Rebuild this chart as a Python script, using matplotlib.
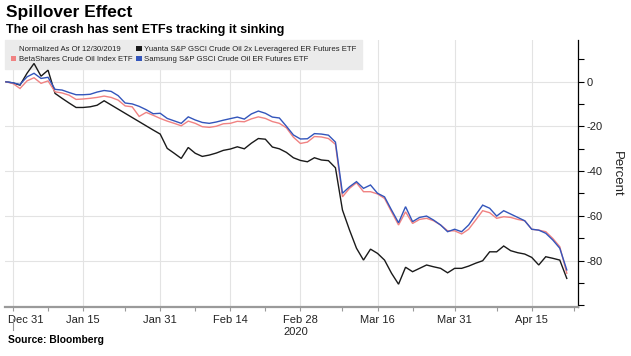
import numpy as np
import pandas as pd
import matplotlib
matplotlib.use("Agg")
import matplotlib.pyplot as plt
from matplotlib.patches import Patch
from matplotlib.lines import Line2D
import matplotlib.transforms as mtransforms

plt.rcParams['font.family'] = ['Liberation Sans', 'DejaVu Sans']

# ---------------- data ----------------
holidays = ["2020-01-01", "2020-01-27"]
calendar = [d for d in pd.bdate_range("2019-12-30", "2020-04-23")
            if d.strftime("%Y-%m-%d") not in holidays]
dates = calendar[:81]

nan = np.nan
yuanta = [0.0, -0.5, -1.5, 3.8, 8.2, 2.5, 5.2, -5.2, -7.4, -9.5,
          -11.5, -11.5, -11.2, -10.5, -8.5, nan, nan, nan, nan, nan,
          nan, -21.6, -23.4, -29.8, -32.0, -34.3, -29.4, -32.0, -33.4, -32.8,
          -31.9, -30.7, -30.1, -29.1, -30.0, -27.5, -25.4, -25.7, -29.2, -30.0,
          -31.6, -34.0, -35.2, -35.8, -34.0, -35.0, -35.3, -38.5, -57.4, -66.3,
          -74.5, -79.8, -74.9, -76.8, -79.8, -85.7, -90.6, -83.0, -85.0, -83.5,
          -82.0, -82.8, -83.5, -85.5, -83.5, -83.5, -82.5, -81.2, -80.1, -76.1,
          -76.1, -73.5, -75.6, -76.5, -77.1, -78.6, -82.0, -78.3, -79.0, -79.8,
          -88.0]
betashares = [0.0, -0.8, -3.0, 0.4, 1.8, -0.7, 0.4, -4.5, -5.0, -6.0,
              -7.9, -7.7, -7.4, -7.0, -6.4, -7.0, -8.2, -10.8, -11.2, -15.5,
              -13.7, -15.0, -16.4, -17.6, -18.6, -19.7, -17.6, -18.6, -20.1, -20.4,
              -19.9, -18.8, -18.6, -17.7, -17.9, -16.6, -15.7, -16.4, -17.8, -18.6,
              -20.6, -24.8, -27.6, -27.0, -24.5, -24.7, -25.4, -28.0, -51.5, -47.7,
              -45.2, -49.2, -49.2, -50.2, -52.2, -58.2, -64.1, -58.2, -63.4, -61.6,
              -61.1, -62.2, -64.1, -66.7, -66.7, -68.1, -66.0, -61.9, -57.7, -58.6,
              -61.1, -60.4, -60.7, -61.6, -62.2, -66.0, -66.4, -67.1, -70.1, -73.8,
              -85.7]
samsung = [0.0, -0.5, -1.2, 2.2, 3.8, 1.5, 2.0, -3.4, -3.7, -4.8,
           -5.8, -5.8, -5.6, -4.6, -3.9, -4.3, -6.2, -9.5, -9.9, -11.0,
           -12.5, -14.3, -14.1, -16.4, -17.5, -18.6, -15.7, -17.1, -18.2, -18.6,
           -18.0, -17.2, -16.5, -15.8, -16.7, -14.4, -13.1, -14.1, -15.8, -16.2,
           -19.9, -23.8, -25.6, -25.5, -23.2, -23.4, -23.9, -27.0, -49.9, -47.0,
           -44.7, -47.7, -46.2, -49.9, -51.5, -57.4, -63.1, -55.9, -62.6, -60.7,
           -60.1, -61.9, -64.1, -67.1, -66.0, -67.1, -64.1, -59.6, -55.2, -56.6,
           -60.1, -57.7, -59.2, -60.7, -62.2, -66.0, -66.4, -67.8, -70.8, -74.5,
           -84.2]

tick_dates = ["2019-12-31", "2020-01-15", "2020-01-31", "2020-02-14",
              "2020-02-28", "2020-03-16", "2020-03-31", "2020-04-15"]
tick_labels = ["Dec 31", "Jan 15", "Jan 31", "Feb 14", "Feb 28\n2020",
               "Mar 16", "Mar 31", "Apr 15"]
minor_dates = ["2020-01-08", "2020-01-23", "2020-02-07", "2020-02-21",
               "2020-03-09", "2020-03-23", "2020-04-08", "2020-04-23"]
y_major = [-80, -60, -40, -20, 0]
y_minor = [-100, -90, -70, -50, -30, -10, 10]

series = [
    ("Yuanta S&P GSCI Crude Oil 2x Leveragered ER Futures ETF", yuanta, "#1a1a1a"),
    ("BetaShares Crude Oil Index ETF", betashares, "#f08282"),
    ("Samsung S&P GSCI Crude Oil ER Futures ETF", samsung, "#3355bb"),
]

# ---------------- figure ----------------
W, H = 631, 356
fig = plt.figure(figsize=(W / 100, H / 100), dpi=100)
ax = fig.add_axes([5 / W, 1 - 307 / H, (578 - 5) / W, (307 - 40) / H])

pos = {d.strftime("%Y-%m-%d"): i for i, d in enumerate(calendar)}
x = np.arange(len(dates))

for k, (name, vals, col) in enumerate(series):
    v = np.asarray(vals, dtype=float)
    m = ~np.isnan(v)
    ax.plot(x[m], v[m], color=col, lw=1.0, zorder=3 + k, solid_joinstyle="miter")

ax.set_xlim(-0.14, 81.6)
ax.set_ylim(-100.8, 18.7)

# spines
for s in ["left", "top"]:
    ax.spines[s].set_visible(False)
ax.spines["right"].set_color("black")
ax.spines["right"].set_linewidth(0.9)
ax.spines["bottom"].set_color("#9a9a9a")
ax.spines["bottom"].set_linewidth(1.6)

# x ticks
ax.set_xticks([pos[d] for d in tick_dates])
ax.set_xticklabels(tick_labels)
ax.set_xticks([pos[d] for d in minor_dates], minor=True)
ax.tick_params(axis="x", which="both", direction="out", length=3, width=0.8,
               color="#9a9a9a", labelsize=8, pad=3, labelcolor="#222222")
for lab in ax.get_xticklabels():
    if "2020" in lab.get_text():
        lab.set_multialignment("left")
first = ax.get_xticklabels()[0]
first.set_ha("left")
first.set_transform(first.get_transform() +
                    mtransforms.ScaledTranslation(-5 / 100, 0, fig.dpi_scale_trans))

# y ticks on right
ax.yaxis.tick_right()
ax.set_yticks(y_major)
ax.set_yticklabels([str(v) for v in y_major])
ax.set_yticks(y_minor, minor=True)
ax.tick_params(axis="y", which="both", direction="out", length=4, width=0.8,
               color="black", labelsize=8, pad=2, labelcolor="#222222")

ax.grid(True, which="major", color="#e3e3e3", lw=0.8)
ax.set_axisbelow(True)

# year divider under Dec 31
blend = mtransforms.blended_transform_factory(ax.transData, ax.transAxes)
ax.plot([pos["2019-12-31"]] * 2, [-0.045, -0.088], transform=blend,
        color="#9a9a9a", lw=0.8, clip_on=False)

# legend
handles = [Line2D([], [], linestyle="none"),
           Patch(facecolor=series[1][2], edgecolor="none"),
           Patch(facecolor=series[0][2], edgecolor="none"),
           Patch(facecolor=series[2][2], edgecolor="none")]
labels = ["Normalized As Of 12/30/2019", series[1][0], series[0][0], series[2][0]]
leg = ax.legend(handles, labels, ncol=2, loc="upper left", bbox_to_anchor=(0, 1),
                borderaxespad=0, frameon=True, fancybox=False, framealpha=1,
                facecolor="#ebebeb", edgecolor="#ebebeb", fontsize=5.6,
                handlelength=0.7, handleheight=0.7, handletextpad=0.3,
                columnspacing=0.5, labelspacing=0.35, borderpad=0.75)
for t in leg.get_texts():
    t.set_color("#222222")
leg.set_zorder(2)

# texts
fig.text(6 / W, 1 - 16.7 / H, "Spillover Effect", fontsize=12.5, weight="bold",
         va="baseline", ha="left", color="black")
fig.text(6 / W, 1 - 33.3 / H, "The oil crash has sent ETFs tracking it sinking",
         fontsize=9.1, weight="bold", va="baseline", ha="left", color="black")
fig.text(8 / W, 1 - 343.3 / H, "Source: Bloomberg", fontsize=7.4, weight="bold",
         va="baseline", ha="left", color="black")
fig.text(617 / W, 1 - 173.5 / H, "Percent", fontsize=9.5, rotation=270,
         va="center", ha="center", color="#222222")

fig.savefig("out.png", dpi=100, facecolor="white")
